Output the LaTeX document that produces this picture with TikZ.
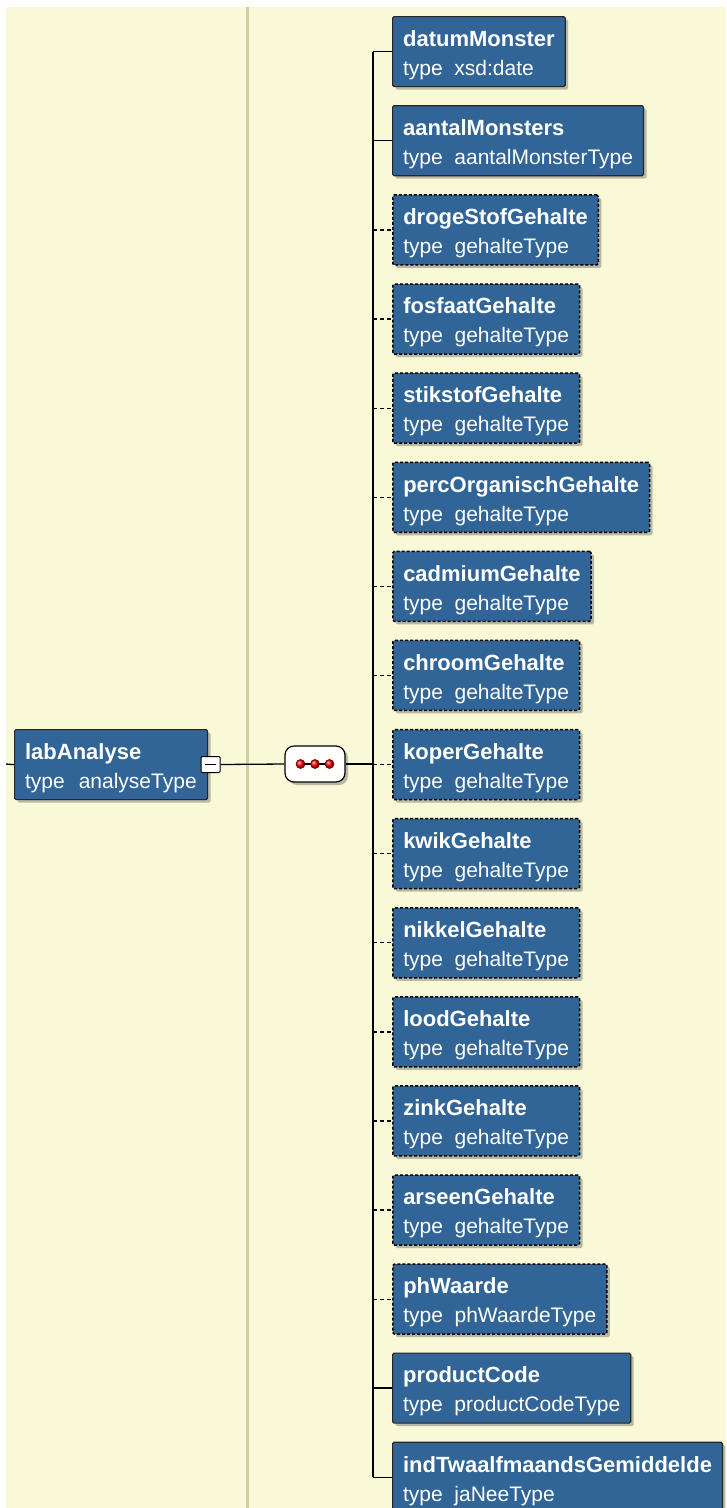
\documentclass[tikz,border=0pt]{standalone}
\usepackage{fontspec}
\setmainfont{Liberation Sans}
\usetikzlibrary{shadows}
\definecolor{xsdblue}{RGB}{50,101,151}
\definecolor{xsdcream}{RGB}{249,248,215}
\definecolor{xsdcol}{RGB}{208,208,164}
\newcommand{\xsdelem}[2]{\rule{0pt}{23pt}{\bfseries\fontsize{22}{29}\selectfont #1}\\type\ \ #2}
\tikzset{
    elembox/.style={
        draw=black!85,line width=1.2pt,fill=xsdblue,text=white,rounded corners=1.5pt,
        align=left,anchor=north west,minimum height=70pt,inner xsep=10.5pt,inner ysep=0pt,
        font=\fontsize{21}{29}\selectfont,
        drop shadow={shadow xshift=3pt,shadow yshift=-3pt,fill=black,opacity=0.25}
    },
    optbox/.style={elembox,draw=black,line width=1.5pt,dash pattern=on 3pt off 2pt},
    link/.style={line width=1.3pt,draw=black},
    optlink/.style={link,dash pattern=on 4pt off 3pt},
    minusbox/.style={
        draw=black,line width=1pt,fill=white,minimum width=19pt,minimum height=16pt,
        inner sep=0pt,rounded corners=1pt,
        path picture={\draw[line width=1.3pt] ([xshift=4pt]path picture bounding box.west) -- ([xshift=-4pt]path picture bounding box.east);}
    },
    seqbox/.style={
        draw=black,line width=1.2pt,fill=white,rounded corners=9pt,minimum width=60pt,
        minimum height=36pt,inner sep=0pt,
        drop shadow={shadow xshift=3pt,shadow yshift=-3pt,fill=black,opacity=0.25}
    },
    seqdot/.style={circle,shading=ball,ball color=red,draw=red!40!black,line width=0.6pt,minimum size=9pt,inner sep=0pt},
}

\begin{document}
\begin{tikzpicture}[x=1pt,y=-1pt]
\fill[white] (0,0) rectangle (726,1508);
\fill[xsdcream] (6,7) rectangle (726,1508);
\useasboundingbox (0,0) rectangle (726,1508);
\clip (0,0) rectangle (726,1508);
\draw[xsdcol,line width=3pt] (247,7) -- (247,1508);
%parent element
\node[elembox,text width=172pt] (lab) at (14,729) {\xsdelem{labAnalyse}{analyseType}};
\node[minusbox] (labm) at (210.5,764.5) {};
\coordinate (in) at (6,764);
\coordinate (bus) at (373,0);
%sequence
\node[seqbox] (seq) at (315,764) {};
\draw[line width=1.2pt] ([xshift=-14.5pt]seq.center) -- ([xshift=14.5pt]seq.center)
    node[pos=0,seqdot]{} node[pos=0.5,seqdot]{} node[pos=1,seqdot]{};
%children
\node[elembox] (datum) at (392,16) {\xsdelem{datumMonster}{xsd:date}};
\node[elembox] (aantal) at (392,105.1) {\xsdelem{aantalMonsters}{aantalMonsterType}};
\node[optbox] (droge) at (392,194.2) {\xsdelem{drogeStofGehalte}{gehalteType}};
\node[optbox] (fosfaat) at (392,283.3) {\xsdelem{fosfaatGehalte}{gehalteType}};
\node[optbox] (stikstof) at (392,372.4) {\xsdelem{stikstofGehalte}{gehalteType}};
\node[optbox] (perc) at (392,461.5) {\xsdelem{percOrganischGehalte}{gehalteType}};
\node[optbox] (cadmium) at (392,550.6) {\xsdelem{cadmiumGehalte}{gehalteType}};
\node[optbox] (chroom) at (392,639.7) {\xsdelem{chroomGehalte}{gehalteType}};
\node[optbox] (koper) at (392,728.8) {\xsdelem{koperGehalte}{gehalteType}};
\node[optbox] (kwik) at (392,817.9) {\xsdelem{kwikGehalte}{gehalteType}};
\node[optbox] (nikkel) at (392,907) {\xsdelem{nikkelGehalte}{gehalteType}};
\node[optbox] (lood) at (392,996.1) {\xsdelem{loodGehalte}{gehalteType}};
\node[optbox] (zink) at (392,1085.2) {\xsdelem{zinkGehalte}{gehalteType}};
\node[optbox] (arseen) at (392,1174.3) {\xsdelem{arseenGehalte}{gehalteType}};
\node[optbox] (ph) at (392,1263.4) {\xsdelem{phWaarde}{phWaardeType}};
\node[elembox] (product) at (392,1352.5) {\xsdelem{productCode}{productCodeType}};
\node[elembox] (twaalf) at (392,1441.6) {\xsdelem{indTwaalfmaandsGemiddelde}{jaNeeType}};
%connectors
\draw[link] (in) -- (lab.west);
\draw[link] (labm.east) -- (seq.west);
\draw[link] (seq.east) -- (bus |- seq.east);
\draw[link] (bus |- datum.west) -- (bus |- twaalf.west);
\draw[link] (bus |- datum.west) -- (datum.west);
\draw[link] (bus |- aantal.west) -- (aantal.west);
\draw[optlink] (bus |- droge.west) -- (droge.west);
\draw[optlink] (bus |- fosfaat.west) -- (fosfaat.west);
\draw[optlink] (bus |- stikstof.west) -- (stikstof.west);
\draw[optlink] (bus |- perc.west) -- (perc.west);
\draw[optlink] (bus |- cadmium.west) -- (cadmium.west);
\draw[optlink] (bus |- chroom.west) -- (chroom.west);
\draw[optlink] (bus |- koper.west) -- (koper.west);
\draw[optlink] (bus |- kwik.west) -- (kwik.west);
\draw[optlink] (bus |- nikkel.west) -- (nikkel.west);
\draw[optlink] (bus |- lood.west) -- (lood.west);
\draw[optlink] (bus |- zink.west) -- (zink.west);
\draw[optlink] (bus |- arseen.west) -- (arseen.west);
\draw[optlink] (bus |- ph.west) -- (ph.west);
\draw[link] (bus |- product.west) -- (product.west);
\draw[link] (bus |- twaalf.west) -- (twaalf.west);
\end{tikzpicture}
\end{document}
